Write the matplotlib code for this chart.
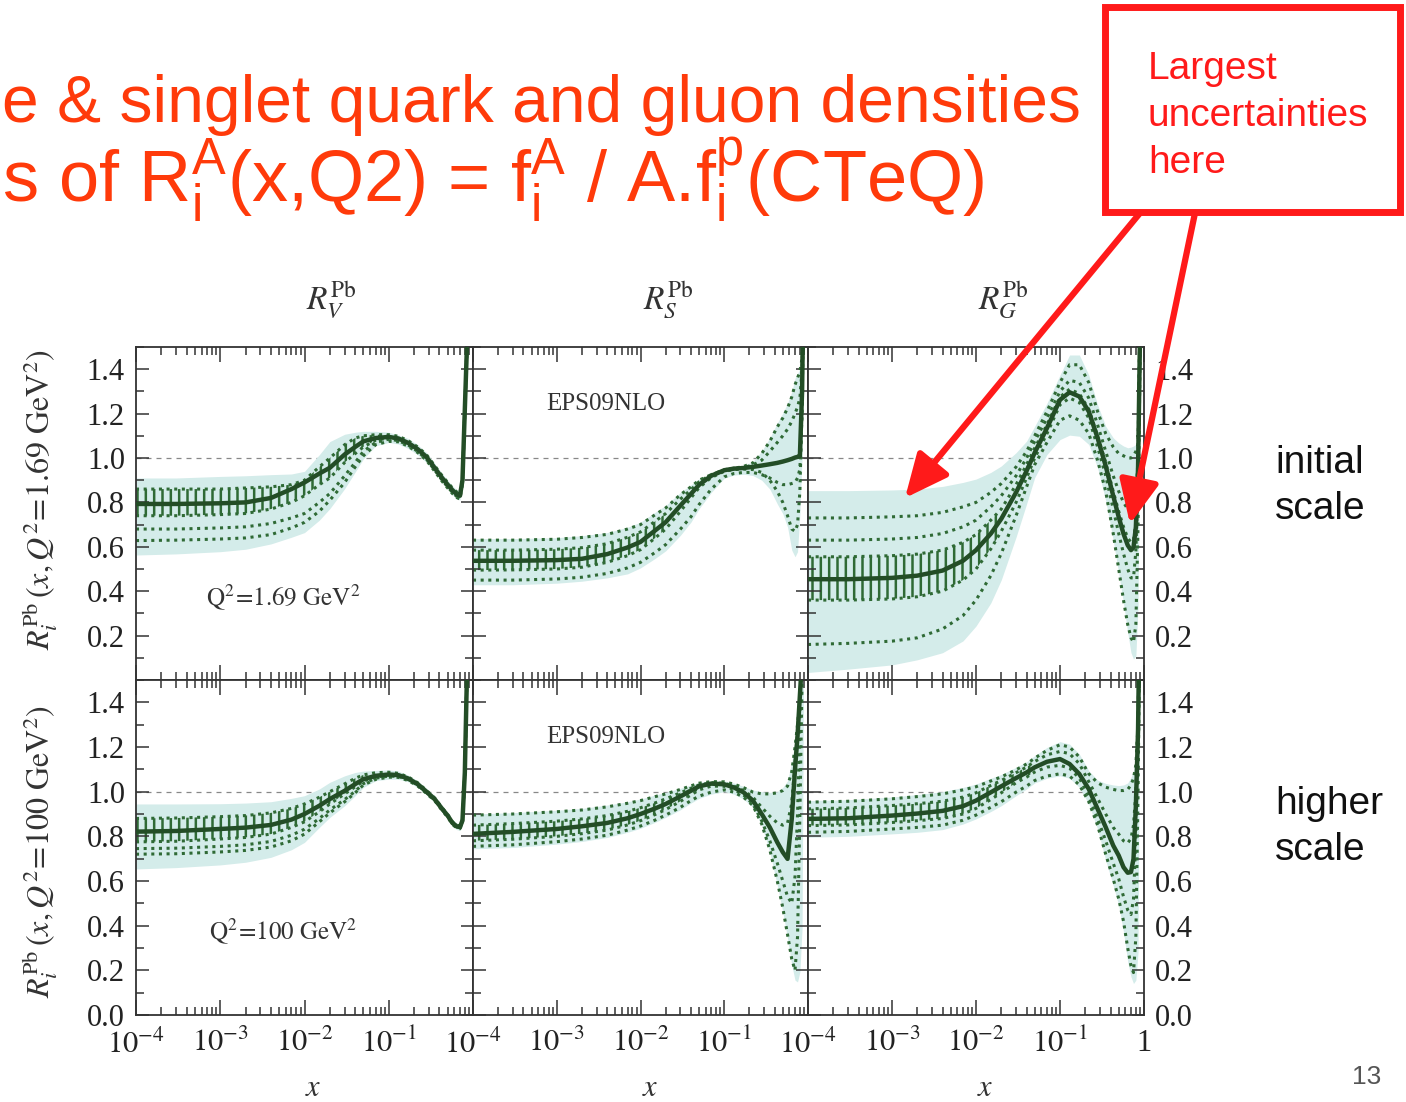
import numpy as np
import matplotlib
matplotlib.use("Agg")
import matplotlib.pyplot as plt
from matplotlib.patches import Rectangle, FancyArrowPatch
from matplotlib.ticker import MultipleLocator, LogLocator, FuncFormatter, NullFormatter

plt.rcParams['font.family'] = ['Liberation Serif', 'DejaVu Serif']
plt.rcParams['mathtext.fontset'] = 'stix'
plt.rcParams['mathtext.rm'] = 'Liberation Sans'
plt.rcParams['hatch.linewidth'] = 1.8

#######################################################
# EPS09NLO nuclear modification ratios for Pb
#######################################################

X = [1e-4, 3e-4, 1e-3, 2e-3, 4e-3, 7e-3, 1e-2, 1.5e-2, 2e-2, 3e-2, 4e-2, 5e-2, 7e-2, 0.1, 0.13,
     0.17, 0.22, 0.28, 0.35, 0.43, 0.5, 0.57, 0.64, 0.7, 0.75, 0.8, 0.85, 0.9, 1.0]

# Q^2 = 1.69 GeV^2, valence
rv1_central = [0.793, 0.793, 0.796, 0.80, 0.82, 0.86, 0.89, 0.93, 0.956, 1.016, 1.05, 1.075, 1.09, 1.095, 1.088,
               1.068, 1.04, 1.005, 0.956, 0.91, 0.88, 0.855, 0.837, 0.83, 0.90, 1.22, 1.52, 2.0, 4.0]
rv1_hi = [0.91, 0.91, 0.917, 0.92, 0.925, 0.928, 0.94, 1.015, 1.074, 1.107, 1.116, 1.12, 1.12, 1.116, 1.104,
          1.088, 1.06, 1.025, 0.976, 0.93, 0.90, 0.875, 0.857, 0.85, 0.92, 1.24, 1.55, 2.05, 4.0]
rv1_lo = [0.563, 0.568, 0.578, 0.589, 0.613, 0.643, 0.664, 0.72, 0.772, 0.862, 0.937, 0.996, 1.055, 1.07, 1.063,
          1.043, 1.015, 0.98, 0.936, 0.89, 0.86, 0.835, 0.817, 0.81, 0.88, 1.20, 1.49, 1.95, 4.0]
rv1_sets = [
    [0.628, 0.63, 0.635, 0.64, 0.655, 0.685, 0.71, 0.76, 0.81, 0.89, 0.96, 1.01, 1.06, 1.075, 1.073,
     1.053, 1.025, 0.99, 0.941, 0.895, 0.865, 0.84, 0.822, 0.815, 0.885, 1.205, 1.5, 2.0, 4.0],
    [0.68, 0.68, 0.685, 0.69, 0.705, 0.73, 0.75, 0.80, 0.84, 0.92, 0.98, 1.03, 1.07, 1.085, 1.078,
     1.058, 1.03, 0.995, 0.946, 0.90, 0.87, 0.845, 0.827, 0.82, 0.89, 1.21, 1.51, 2.0, 4.0],
    [0.86, 0.86, 0.86, 0.865, 0.87, 0.88, 0.90, 0.96, 1.00, 1.06, 1.09, 1.10, 1.105, 1.105, 1.098,
     1.078, 1.05, 1.015, 0.966, 0.92, 0.89, 0.865, 0.847, 0.84, 0.91, 1.23, 1.53, 2.0, 4.0],
    [0.74, 0.74, 0.745, 0.75, 0.77, 0.80, 0.83, 0.88, 0.91, 0.98, 1.02, 1.05, 1.08, 1.09, 1.085,
     1.065, 1.037, 1.002, 0.953, 0.907, 0.877, 0.852, 0.834, 0.827, 0.897, 1.215, 1.515, 2.0, 4.0],
]

# Q^2 = 1.69 GeV^2, sea
rs1_central = [0.537, 0.537, 0.540, 0.546, 0.567, 0.597, 0.622, 0.674, 0.711, 0.786, 0.838, 0.879, 0.920, 0.945, 0.952,
               0.955, 0.960, 0.966, 0.972, 0.978, 0.984, 0.990, 0.996, 1.002, 1.005, 1.009, 1.30, 2.0, 4.0]
rs1_hi = [0.637, 0.637, 0.641, 0.650, 0.664, 0.688, 0.711, 0.756, 0.786, 0.845, 0.879, 0.905, 0.930, 0.949, 0.957,
          0.966, 0.984, 1.031, 1.091, 1.158, 1.202, 1.247, 1.299, 1.359, 1.381, 1.40, 1.45, 2.0, 4.0]
rs1_lo = [0.429, 0.429, 0.436, 0.445, 0.460, 0.478, 0.505, 0.548, 0.582, 0.652, 0.711, 0.771, 0.845, 0.909, 0.923,
          0.927, 0.921, 0.900, 0.860, 0.793, 0.749, 0.689, 0.585, 0.555, 0.578, 0.749, 1.002, 1.9, 4.0]
rs1_sets = [
    [0.63, 0.63, 0.634, 0.642, 0.656, 0.68, 0.70, 0.745, 0.775, 0.835, 0.87, 0.90, 0.925, 0.945, 0.953,
     0.962, 0.978, 1.02, 1.075, 1.14, 1.18, 1.225, 1.275, 1.33, 1.36, 1.39, 1.45, 2.0, 4.0],
    [0.585, 0.585, 0.589, 0.596, 0.614, 0.643, 0.667, 0.715, 0.75, 0.815, 0.857, 0.893, 0.925, 0.947, 0.954,
     0.958, 0.968, 0.99, 1.03, 1.07, 1.10, 1.13, 1.165, 1.20, 1.23, 1.27, 1.40, 2.0, 4.0],
    [0.495, 0.496, 0.50, 0.508, 0.53, 0.56, 0.587, 0.64, 0.68, 0.76, 0.82, 0.866, 0.912, 0.94, 0.948,
     0.95, 0.948, 0.935, 0.90, 0.85, 0.80, 0.74, 0.68, 0.67, 0.70, 0.85, 1.25, 2.0, 4.0],
    [0.45, 0.45, 0.455, 0.463, 0.48, 0.505, 0.53, 0.575, 0.61, 0.68, 0.735, 0.79, 0.86, 0.915, 0.93,
     0.935, 0.935, 0.925, 0.91, 0.89, 0.88, 0.88, 0.885, 0.89, 0.91, 0.95, 1.2, 2.0, 4.0],
]

# Q^2 = 1.69 GeV^2, gluon
rg1_central = [0.454, 0.454, 0.460, 0.470, 0.493, 0.537, 0.585, 0.659, 0.726, 0.845, 0.942, 1.024, 1.135, 1.262, 1.296,
               1.277, 1.210, 1.091, 0.964, 0.830, 0.734, 0.659, 0.607, 0.585, 0.597, 0.689, 0.957, 1.6, 3.0]
rg1_hi = [0.853, 0.853, 0.856, 0.860, 0.872, 0.890, 0.905, 0.935, 0.964, 1.024, 1.076, 1.143, 1.247, 1.374, 1.464,
          1.464, 1.374, 1.240, 1.143, 1.091, 1.068, 1.054, 1.046, 1.049, 1.054, 1.061, 1.076, 1.7, 3.1]
rg1_lo = [0.034, 0.049, 0.068, 0.091, 0.123, 0.176, 0.243, 0.347, 0.451, 0.644, 0.793, 0.912, 1.016, 1.083, 1.103,
          1.098, 1.061, 0.957, 0.808, 0.629, 0.48, 0.347, 0.213, 0.123, 0.094, 0.109, 0.332, 1.4, 2.9]
rg1_sets = [
    [0.73, 0.73, 0.735, 0.74, 0.755, 0.78, 0.80, 0.845, 0.885, 0.96, 1.03, 1.10, 1.21, 1.34, 1.42,
     1.42, 1.34, 1.21, 1.11, 1.05, 1.02, 1.01, 1.00, 1.00, 1.01, 1.03, 1.06, 1.7, 3.0],
    [0.63, 0.63, 0.635, 0.642, 0.66, 0.69, 0.72, 0.78, 0.83, 0.92, 1.00, 1.075, 1.18, 1.30, 1.35,
     1.34, 1.27, 1.15, 1.03, 0.92, 0.85, 0.80, 0.77, 0.76, 0.77, 0.82, 1.0, 1.65, 3.0],
    [0.555, 0.555, 0.56, 0.567, 0.585, 0.62, 0.655, 0.72, 0.77, 0.88, 0.97, 1.045, 1.15, 1.275, 1.31,
     1.29, 1.22, 1.10, 0.98, 0.85, 0.76, 0.69, 0.64, 0.62, 0.63, 0.71, 0.97, 1.6, 3.0],
    [0.36, 0.36, 0.365, 0.375, 0.40, 0.45, 0.50, 0.59, 0.67, 0.80, 0.91, 1.00, 1.11, 1.24, 1.27,
     1.25, 1.18, 1.05, 0.92, 0.77, 0.66, 0.57, 0.50, 0.46, 0.46, 0.58, 0.9, 1.6, 3.0],
    [0.16, 0.165, 0.175, 0.19, 0.23, 0.29, 0.36, 0.47, 0.57, 0.74, 0.87, 0.97, 1.07, 1.17, 1.19,
     1.17, 1.11, 0.99, 0.85, 0.66, 0.50, 0.36, 0.25, 0.19, 0.17, 0.25, 0.7, 1.5, 3.0],
]

# Q^2 = 100 GeV^2, valence
rv2_central = [0.821, 0.824, 0.833, 0.839, 0.851, 0.875, 0.900, 0.937, 0.967, 1.004, 1.034, 1.056, 1.071, 1.077, 1.074,
               1.059, 1.034, 1.000, 0.967, 0.923, 0.893, 0.860, 0.845, 0.841, 0.871, 1.086, 1.55, 2.2, 4.0]
rv2_hi = [0.945, 0.945, 0.946, 0.949, 0.955, 0.970, 0.982, 1.012, 1.042, 1.071, 1.086, 1.092, 1.095, 1.097, 1.092,
          1.074, 1.049, 1.015, 0.982, 0.938, 0.908, 0.875, 0.860, 0.856, 0.886, 1.10, 1.56, 2.2, 4.0]
rv2_lo = [0.654, 0.660, 0.672, 0.684, 0.706, 0.740, 0.773, 0.840, 0.885, 0.937, 0.982, 1.019, 1.049, 1.056, 1.056,
          1.044, 1.019, 0.985, 0.952, 0.908, 0.878, 0.845, 0.830, 0.826, 0.856, 1.07, 1.54, 2.2, 4.0]
rv2_sets = [
    [0.72, 0.722, 0.73, 0.737, 0.752, 0.78, 0.81, 0.865, 0.905, 0.955, 0.995, 1.03, 1.055, 1.065, 1.064,
     1.05, 1.026, 0.992, 0.96, 0.916, 0.886, 0.853, 0.838, 0.834, 0.864, 1.08, 1.55, 2.2, 4.0],
    [0.745, 0.747, 0.755, 0.762, 0.777, 0.805, 0.832, 0.88, 0.918, 0.965, 1.002, 1.036, 1.06, 1.07, 1.068,
     1.054, 1.03, 0.996, 0.963, 0.92, 0.89, 0.857, 0.842, 0.838, 0.868, 1.083, 1.55, 2.2, 4.0],
    [0.88, 0.882, 0.888, 0.893, 0.905, 0.925, 0.945, 0.975, 1.0, 1.035, 1.06, 1.075, 1.085, 1.087, 1.082,
     1.066, 1.04, 1.006, 0.972, 0.928, 0.898, 0.865, 0.85, 0.846, 0.876, 1.09, 1.55, 2.2, 4.0],
    [0.775, 0.778, 0.788, 0.795, 0.81, 0.84, 0.865, 0.91, 0.945, 0.99, 1.022, 1.047, 1.066, 1.074, 1.072,
     1.057, 1.032, 0.998, 0.965, 0.921, 0.891, 0.858, 0.843, 0.839, 0.869, 1.085, 1.55, 2.2, 4.0],
]

# Q^2 = 100 GeV^2, sea
rs2_central = [0.811, 0.820, 0.833, 0.845, 0.860, 0.881, 0.900, 0.925, 0.945, 0.979, 1.004, 1.024, 1.036, 1.033, 1.019,
               0.997, 0.960, 0.900, 0.840, 0.773, 0.729, 0.699, 0.878, 1.101, 1.25, 1.43, 1.6, 2.2, 4.0]
rs2_hi = [0.900, 0.906, 0.917, 0.925, 0.940, 0.955, 0.967, 0.985, 0.997, 1.015, 1.030, 1.042, 1.049, 1.048, 1.039,
          1.024, 1.007, 1.000, 0.997, 1.000, 1.019, 1.049, 1.131, 1.235, 1.324, 1.443, 1.65, 2.3, 4.0]
rs2_lo = [0.744, 0.750, 0.765, 0.777, 0.795, 0.818, 0.836, 0.863, 0.885, 0.919, 0.949, 0.970, 0.989, 1.000, 0.989,
          0.967, 0.930, 0.848, 0.729, 0.580, 0.461, 0.342, 0.223, 0.156, 0.148, 0.193, 0.387, 2.0, 4.0]
rs2_sets = [
    [0.895, 0.90, 0.91, 0.918, 0.932, 0.948, 0.96, 0.978, 0.99, 1.01, 1.026, 1.038, 1.045, 1.044, 1.034,
     1.018, 0.998, 0.99, 0.99, 0.995, 1.005, 1.025, 1.09, 1.20, 1.30, 1.42, 1.6, 2.2, 4.0],
    [0.85, 0.857, 0.868, 0.878, 0.893, 0.912, 0.928, 0.95, 0.968, 0.995, 1.015, 1.03, 1.04, 1.038, 1.025,
     1.005, 0.975, 0.93, 0.89, 0.86, 0.85, 0.86, 0.95, 1.13, 1.26, 1.42, 1.6, 2.2, 4.0],
    [0.78, 0.787, 0.80, 0.812, 0.828, 0.851, 0.87, 0.898, 0.92, 0.957, 0.985, 1.008, 1.025, 1.024, 1.01,
     0.985, 0.945, 0.87, 0.78, 0.68, 0.60, 0.53, 0.50, 0.62, 0.90, 1.3, 1.6, 2.2, 4.0],
    [0.755, 0.762, 0.776, 0.788, 0.805, 0.828, 0.846, 0.873, 0.895, 0.93, 0.96, 0.98, 0.998, 1.008, 0.998,
     0.975, 0.938, 0.855, 0.74, 0.60, 0.48, 0.36, 0.25, 0.20, 0.35, 0.9, 1.5, 2.2, 4.0],
]

# Q^2 = 100 GeV^2, gluon
rg2_central = [0.878, 0.881, 0.893, 0.902, 0.914, 0.935, 0.960, 0.997, 1.024, 1.061, 1.086, 1.109, 1.134, 1.146, 1.124,
               1.079, 1.012, 0.923, 0.841, 0.759, 0.714, 0.662, 0.637, 0.640, 0.699, 0.937, 1.28, 2.0, 4.0]
rg2_hi = [0.960, 0.964, 0.976, 0.987, 1.000, 1.019, 1.034, 1.060, 1.077, 1.109, 1.134, 1.161, 1.198, 1.224, 1.213,
          1.168, 1.094, 1.052, 1.037, 1.030, 1.027, 1.030, 1.039, 1.064, 1.094, 1.161, 1.354, 2.1, 4.0]
rg2_lo = [0.796, 0.800, 0.811, 0.818, 0.830, 0.855, 0.878, 0.911, 0.937, 0.982, 1.012, 1.039, 1.060, 1.071, 1.060,
          1.019, 0.945, 0.833, 0.692, 0.580, 0.491, 0.372, 0.238, 0.171, 0.141, 0.156, 0.283, 1.8, 4.0]
rg2_sets = [
    [0.953, 0.957, 0.968, 0.978, 0.99, 1.008, 1.022, 1.048, 1.066, 1.098, 1.124, 1.15, 1.185, 1.21, 1.20,
     1.155, 1.08, 1.04, 1.02, 1.01, 1.005, 1.005, 1.01, 1.03, 1.06, 1.12, 1.3, 2.0, 4.0],
    [0.923, 0.927, 0.938, 0.946, 0.957, 0.976, 0.995, 1.028, 1.05, 1.085, 1.11, 1.135, 1.165, 1.18, 1.17,
     1.125, 1.045, 0.97, 0.90, 0.84, 0.81, 0.78, 0.77, 0.79, 0.85, 1.0, 1.3, 2.0, 4.0],
    [0.848, 0.851, 0.862, 0.87, 0.88, 0.9, 0.925, 0.965, 0.995, 1.04, 1.065, 1.088, 1.11, 1.118, 1.105,
     1.06, 0.98, 0.88, 0.78, 0.68, 0.61, 0.53, 0.47, 0.45, 0.52, 0.8, 1.25, 2.0, 4.0],
    [0.818, 0.822, 0.833, 0.84, 0.85, 0.872, 0.895, 0.93, 0.955, 0.998, 1.025, 1.05, 1.07, 1.08, 1.07,
     1.03, 0.955, 0.85, 0.72, 0.61, 0.52, 0.42, 0.30, 0.22, 0.19, 0.35, 1.0, 1.9, 4.0],
]

# densely overlapping error sets show up as a vertical texture: (lower set, upper set, last x)
rv1_hatch = (3, 2, 0.1)
rs1_hatch = (2, 1, 2e-2)
rg1_hatch = (3, 2, 2e-2)
rv2_hatch = (3, 2, 5e-2)
rs2_hatch = (2, 1, 5e-2)
rg2_hatch = (2, 1, 5e-2)

panels = [
    [(rv1_central, rv1_lo, rv1_hi, rv1_sets, rv1_hatch),
     (rs1_central, rs1_lo, rs1_hi, rs1_sets, rs1_hatch),
     (rg1_central, rg1_lo, rg1_hi, rg1_sets, rg1_hatch)],
    [(rv2_central, rv2_lo, rv2_hi, rv2_sets, rv2_hatch),
     (rs2_central, rs2_lo, rs2_hi, rs2_sets, rs2_hatch),
     (rg2_central, rg2_lo, rg2_hi, rg2_sets, rg2_hatch)],
]

col_titles = [r'$R_V^{\rm Pb}$', r'$R_S^{\rm Pb}$', r'$R_G^{\rm Pb}$']
row_labels = [r'$R_i^{\rm Pb}\,(x,Q^2\!=\!1.69\ {\rm GeV}^2)$',
              r'$R_i^{\rm Pb}\,(x,Q^2\!=\!100\ {\rm GeV}^2)$']
scale_notes = [r'$\rm Q^2\!=\!1.69\ GeV^2$', r'$\rm Q^2\!=\!100\ GeV^2$']
side_notes = ['initial\nscale', 'higher\nscale']

BAND = '#d4ecea'
DOTS = '#2f6a35'
CENTRAL = '#234d26'
RED = '#ff1a1a'
TITLE_RED = '#ff3a0a'

W, H = 1406, 1102
fig = plt.figure(figsize=(W / 100, H / 100), dpi=100)


def fx(p):
    return p / W


def fy(p):
    return 1 - p / H


col_px = [(136, 473), (473, 808), (808, 1144)]
row_px = [(347, 680), (680, 1015)]

decade_text = {-4: r'$10^{-4}$', -3: r'$10^{-3}$', -2: r'$10^{-2}$', -1: r'$10^{-1}$', 0: '1'}
xs = np.array(X)

for r in range(2):
    for c in range(3):
        x0, x1 = col_px[c]
        y0, y1 = row_px[r]
        ax = fig.add_axes([fx(x0), fy(y1), fx(x1 - x0), (y1 - y0) / H])
        central, lo, hi, sets, (h_lo, h_hi, h_end) = panels[r][c]

        ax.fill_between(X, lo, hi, color=BAND, lw=0, zorder=1)
        ax.fill_between(X, sets[h_lo], sets[h_hi], where=xs <= h_end, facecolor='none',
                        edgecolor=DOTS, hatch='||', lw=0, zorder=1.5)
        for s in sets:
            ax.plot(X, s, color=DOTS, lw=2.2, ls=(0, (1, 1.5)), zorder=2)
        ax.plot(X, central, color=CENTRAL, lw=3.2, zorder=3)
        ax.axhline(1.0, color='#888888', lw=0.9, ls=(0, (4, 4)), zorder=0.5)

        ax.set_xscale('log')
        ax.set_xlim(1e-4, 1)
        ax.set_ylim(0, 1.5)

        ax.yaxis.set_major_locator(MultipleLocator(0.2))
        ax.yaxis.set_minor_locator(MultipleLocator(0.1))
        ax.xaxis.set_major_locator(LogLocator(base=10, numticks=10))
        ax.xaxis.set_minor_locator(LogLocator(base=10, subs=np.arange(2, 10), numticks=20))
        ax.xaxis.set_minor_formatter(NullFormatter())
        ax.tick_params(which='both', direction='in', top=True, right=True,
                       color='#333333', width=1.1, labelsize=22, labelcolor='#222222')
        ax.tick_params(which='major', length=11)
        ax.tick_params(which='minor', length=6)
        ax.tick_params(axis='y', which='major', length=9, pad=8)
        ax.tick_params(axis='x', which='major', pad=10)
        for sp in ax.spines.values():
            sp.set_color('#333333')
            sp.set_linewidth(1.3)

        if r == 0:
            ax.yaxis.set_major_formatter(FuncFormatter(lambda v, p: '' if v < 0.05 else '%.1f' % v))
        else:
            ax.yaxis.set_major_formatter(FuncFormatter(lambda v, p: '%.1f' % v))
        if c == 0:
            ax.tick_params(axis='y', labelleft=True, labelright=False)
        elif c == 2:
            ax.tick_params(axis='y', labelleft=False, labelright=True)
        else:
            ax.tick_params(axis='y', labelleft=False, labelright=False)

        if r == 1:
            last = (c == 2)
            ax.xaxis.set_major_formatter(FuncFormatter(
                lambda v, p, last=last: decade_text.get(int(round(np.log10(v))), '')
                if (round(np.log10(v)) < 0 or last) else ''))
        else:
            ax.tick_params(axis='x', labelbottom=False)

        if c == 0:
            ax.text(5.6e-3, 0.37, scale_notes[r], fontsize=18, ha='center', va='center',
                    color='#333333')
        if c == 1:
            ax.text(3.8e-3, 1.245, 'EPS09NLO', fontsize=18, ha='center', va='center',
                    color='#333333')

# column titles and axis labels
for c in range(3):
    cx = col_px[c][0] + 195
    fig.text(fx(cx), fy(300), col_titles[c], fontsize=24, ha='center', va='center', color='#333333')
    fig.text(fx(col_px[c][0] + 177), fy(1088), r'$x$', fontsize=22, ha='center', va='center',
             color='#333333')
fig.text(fx(40), fy(500), row_labels[0], rotation=90, fontsize=23, ha='center', va='center',
         color='#333333')
fig.text(fx(40), fy(852), row_labels[1], rotation=90, fontsize=23, ha='center', va='center',
         color='#333333')

# slide heading
fig.text(fx(2), fy(105), 'e & singlet quark and gluon densities', fontsize=47.5,
         family='Liberation Sans', color=TITLE_RED, ha='left', va='center')
fig.text(fx(2), fy(180),
         r's of R$_\mathrm{i}^\mathrm{A}$(x,Q2) = f$_\mathrm{i}^\mathrm{A}$ / A.f$_\mathrm{i}^\mathrm{p}$(CTeQ)',
         fontsize=52, family='Liberation Sans', math_fontfamily='custom',
         color=TITLE_RED, ha='left', va='center')

# annotation box with arrows
fig.add_artist(Rectangle((fx(1105), fy(212)), fx(1400 - 1105), (212 - 7) / H,
                         transform=fig.transFigure, fill=False, edgecolor=RED, lw=5))
fig.text(fx(1148), fy(116), 'Largest\nuncertainties\nhere', fontsize=28,
         family='Liberation Sans', color=RED, ha='left', va='center', linespacing=1.38)
for (xa, ya), (xb, yb) in [((1140, 213), (905, 498)), ((1195, 213), (1130, 524))]:
    fig.add_artist(FancyArrowPatch((fx(xa), fy(ya)), (fx(xb), fy(yb)),
                                   transform=fig.transFigure,
                                   arrowstyle='-|>,head_length=1.2,head_width=0.55',
                                   mutation_scale=22, lw=4.5, color=RED,
                                   shrinkA=0, shrinkB=0, zorder=5))

for txt, yc in zip(side_notes, [486, 827]):
    fig.text(fx(1275), fy(yc), txt, fontsize=28, family='Liberation Sans',
             color='#111111', ha='left', va='center', linespacing=1.38)

fig.text(fx(1367), fy(1077), '13', fontsize=19, family='Liberation Sans',
         color='#555555', ha='center', va='center')

fig.savefig('out.png', dpi=100, facecolor='white')
